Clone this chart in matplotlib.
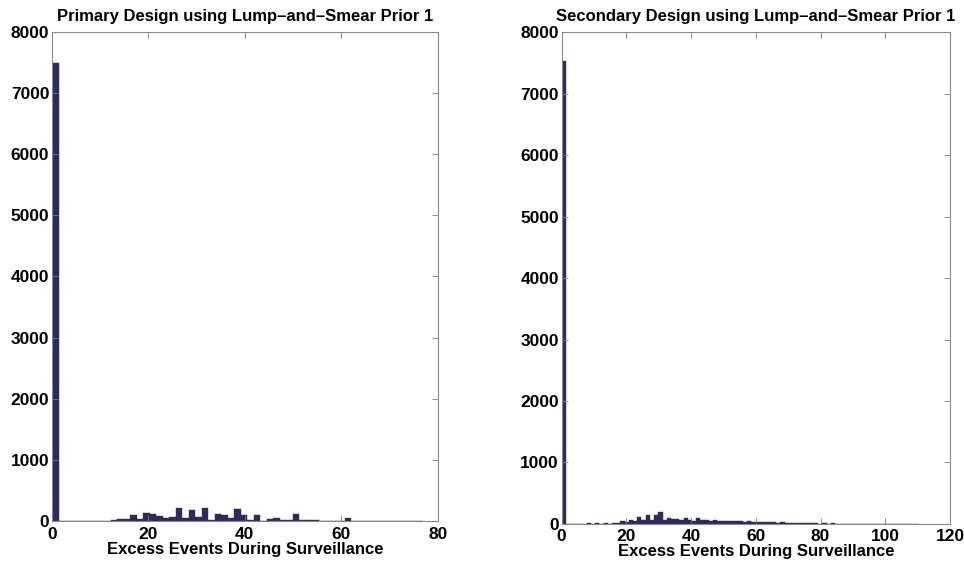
import matplotlib.pyplot as plt
import numpy as np

plt.rcParams['font.family'] = ['Liberation Sans', 'DejaVu Sans']
plt.rcParams['font.weight'] = 'bold'

# histogram counts, primary design (bin width 1.35, starting at 0)
primary_width = 1.35
primary_counts = [7490, 0, 0, 0, 0, 5, 8, 6, 3, 25,
                  30, 30, 100, 30, 135, 120, 85, 55, 65, 210,
                  55, 175, 65, 220, 15, 120, 100, 55, 190, 100,
                  10, 100, 8, 40, 50, 12, 25, 110, 25, 10,
                  10, 8, 5, 3, 2, 45, 2, 5, 8, 3,
                  2, 1, 0, 3, 0, 4, 1]

# histogram counts, secondary design (bin width 1.3, starting at 0)
secondary_width = 1.3
secondary_counts = [7530, 0, 0, 0, 0, 0, 8, 0, 10, 5,
                    12, 5, 20, 10, 40, 25, 70, 40, 110, 60,
                    140, 70, 150, 190, 60, 95, 80, 85, 70, 90,
                    60, 55, 100, 60, 70, 55, 65, 50, 55, 45,
                    50, 40, 45, 35, 40, 30, 35, 25, 30, 25,
                    28, 20, 25, 15, 20, 12, 18, 10, 12, 8,
                    10, 6, 12, 5, 8, 4, 6, 3, 5, 2,
                    4, 2, 3, 2, 3, 1, 2, 1, 2, 1,
                    2, 1, 1, 1, 1]

titles = ['Primary Design using Lump\u2013and\u2013Smear Prior 1',
          'Secondary Design using Lump\u2013and\u2013Smear Prior 1']
xlabel = 'Excess Events During Surveillance'
xmax = [80, 120]
bar_color = '#2a2c5c'

fig = plt.figure(figsize=(9.64, 5.67), dpi=100)
ax1 = fig.add_axes([0.054, 0.081, 0.400, 0.863])
ax2 = fig.add_axes([0.5825, 0.076, 0.403, 0.867])

panels = [(ax1, primary_counts, primary_width),
          (ax2, secondary_counts, secondary_width)]

for i, (ax, counts, w) in enumerate(panels):
    counts = np.array(counts)
    left = np.arange(len(counts)) * w
    ax.bar(left, counts, width=w, align='edge', color=bar_color,
           edgecolor=bar_color, linewidth=0.3)
    ax.set_xlim(0, xmax[i])
    ax.set_ylim(0, 8000)
    ax.set_yticks(np.arange(0, 8001, 1000))
    ax.set_xticks(np.arange(0, xmax[i] + 1, 20))
    ax.tick_params(direction='in', length=4, width=0.6, color='#777777',
                   top=True, right=True, labelsize=12.5, pad=2)
    ax.tick_params(axis='x', pad=4)
    for lab in ax.get_xticklabels() + ax.get_yticklabels():
        lab.set_fontweight('bold')
    for sp in ax.spines.values():
        sp.set_color('#888888')
        sp.set_linewidth(0.8)
    ax.set_title(titles[i], fontsize=12, fontweight='bold', pad=8)
    ax.set_xlabel(xlabel, fontsize=12, fontweight='bold', labelpad=0)

fig.savefig('out.png', dpi=100)
